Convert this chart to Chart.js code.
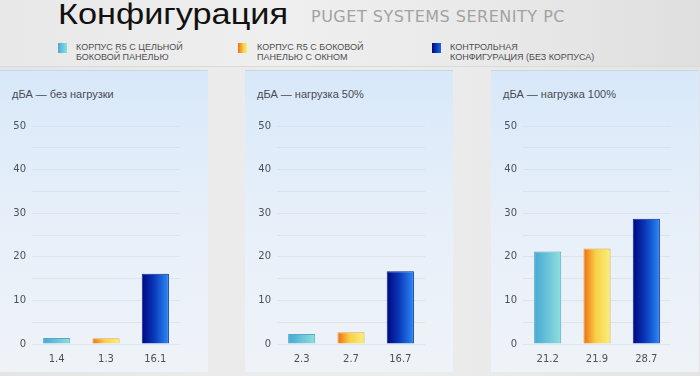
<!DOCTYPE html>
<html>
<head>
<meta charset="utf-8">
<script src="https://cdn.jsdelivr.net/npm/chart.js@4.4.1/dist/chart.umd.min.js"></script>
<style>
  html, body { margin:0; padding:0; }
  body { width:700px; height:376px; overflow:hidden; position:relative;
    background: linear-gradient(90deg, #e3e4e5 0%, #ebebec 30%, #ececed 60%, #e4e4e5 100%);
    font-family: "Liberation Sans", Arial, sans-serif; }
  #hdr { position:absolute; left:0; top:0; width:700px; height:66px;
    background: linear-gradient(90deg, #e8e8e9 0%, #efefef 40%, #e9e9e9 70%, #dfdfe0 100%);
    border-bottom:1px solid #dadadb; }
  #title { position:absolute; left:58px; top:-3px; font-size:30px; color:#111; white-space:nowrap; transform-origin:0 0; }
  #sub { position:absolute; left:311px; top:7px; font-family:"DejaVu Sans", sans-serif; font-size:16px; color:#a2a2a4; white-space:nowrap; transform-origin:0 0; letter-spacing:0.5px; }
  .lg { position:absolute; top:42px; font-size:9px; line-height:10px; color:#4e4e50; white-space:nowrap; }
  .sw { position:absolute; top:43px; width:9px; height:10px; }
  .panel { position:absolute; top:70px; width:208px; height:302px;
    background: linear-gradient(180deg, #d8e8fa 0%, #e6eff9 45%, #eff3f8 100%);
    border-top:1px solid #c9d6e3; box-sizing:border-box; }
  .ptitle { position:absolute; left:12px; top:17px; font-size:11px; color:#4a4c50; white-space:nowrap; }
  .panel canvas { position:absolute; left:0; top:0; }
</style>
</head>
<body>
<div id="hdr"></div>
<div id="title">Конфигурация</div>
<div id="sub">PUGET SYSTEMS SERENITY PC</div>

<div class="sw" style="left:58px; background:linear-gradient(90deg,#46aad6,#8ee0de);"></div>
<div class="lg" style="left:76px;">КОРПУС R5 С ЦЕЛЬНОЙ<br>БОКОВОЙ ПАНЕЛЬЮ</div>
<div class="sw" style="left:238px; background:linear-gradient(90deg,#ee6e10,#f8d048 60%,#f8ee78);"></div>
<div class="lg" style="left:257px;">КОРПУС R5 С БОКОВОЙ<br>ПАНЕЛЬЮ С ОКНОМ</div>
<div class="sw" style="left:432px; background:linear-gradient(90deg,#000880,#1a66e8);"></div>
<div class="lg" style="left:450px;">КОНТРОЛЬНАЯ<br>КОНФИГУРАЦИЯ (БЕЗ КОРПУСА)</div>

<div class="panel" style="left:0px;"><div class="ptitle" id="t0"></div><canvas id="c0" width="208" height="302"></canvas></div>
<div class="panel" style="left:245px;"><div class="ptitle" id="t1"></div><canvas id="c1" width="208" height="302"></canvas></div>
<div class="panel" style="left:491px;"><div class="ptitle" id="t2"></div><canvas id="c2" width="208" height="302"></canvas></div>

<script>
// ---- data ----
const seriesNames = ['Корпус R5 с цельной боковой панелью', 'Корпус R5 с боковой панелью с окном', 'Контрольная конфигурация (без корпуса)'];
const panelTitles = ['дБА — без нагрузки', 'дБА — нагрузка 50%', 'дБА — нагрузка 100%'];
const idleValues = [1.4, 1.3, 16.1];
const load50Values = [2.3, 2.7, 16.7];
const load100Values = [21.2, 21.9, 28.7];
const yTicks = [0, 10, 20, 30, 40, 50];

// ---- styles ----
const gradStops = [
  [[0, '#45a8d4'], [1, '#8fe0dc']],
  [[0, '#ee6c10'], [0.45, '#f8d048'], [1, '#f8f07c']],
  [[0, '#000680'], [0.45, '#0a38b8'], [1, '#2a8af8']]
];
const borderCols = ['#5aa6c8', '#e8a040', '#0a2a9a'];

// fit header text widths
function fit(id, w) {
  const el = document.getElementById(id);
  const r = el.getBoundingClientRect().width;
  el.style.transform = 'scaleX(' + (w / r) + ')';
}
fit('title', 230);
fit('sub', 254);

function barFill(ctx) {
  const chart = ctx.chart;
  const i = ctx.dataIndex;
  if (!chart.chartArea || i === undefined || !chart.scales.x) return gradStops[0][0][1];
  const xs = chart.scales.x;
  const n = chart.data.labels.length;
  const bw = xs.width / n * 0.55;
  const c = xs.getPixelForValue(i);
  const g = chart.ctx.createLinearGradient(c - bw / 2, 0, c + bw / 2, 0);
  gradStops[i].forEach(s => g.addColorStop(s[0], s[1]));
  return g;
}

function makeChart(id, titleId, title, values) {
  document.getElementById(titleId).textContent = title;
  new Chart(document.getElementById(id), {
    type: 'bar',
    data: {
      labels: values.map(v => v.toFixed(1)),
      datasets: [{
        label: title,
        data: values,
        backgroundColor: barFill,
        borderColor: ctx => borderCols[ctx.dataIndex || 0],
        borderWidth: 1,
        categoryPercentage: 1,
        barPercentage: 0.55
      }]
    },
    options: {
      responsive: false,
      animation: false,
      layout: { padding: { left: 0, right: 28, top: 55, bottom: 0 } },
      plugins: { legend: { display: false }, title: { display: false }, tooltip: { enabled: false } },
      scales: {
        x: {
          grid: { display: false, drawTicks: false },
          border: { display: false },
          ticks: { color: '#4e5056', font: { family: 'DejaVu Sans', size: 10 }, padding: 9 },
          afterFit: s => { s.height = 29; }
        },
        y: {
          min: 0, max: 50,
          ticks: {
            stepSize: 5,
            color: '#4e5056',
            font: { family: 'DejaVu Sans', size: 10 },
            padding: 6,
            callback: v => (yTicks.includes(v) ? String(v) : '')
          },
          grid: { color: 'rgba(205,218,232,0.55)', drawTicks: false },
          border: { display: false },
          afterFit: s => { s.width = 32; }
        }
      }
    }
  });
}

makeChart('c0', 't0', panelTitles[0], idleValues);
makeChart('c1', 't1', panelTitles[1], load50Values);
makeChart('c2', 't2', panelTitles[2], load100Values);
</script>
</body>
</html>
